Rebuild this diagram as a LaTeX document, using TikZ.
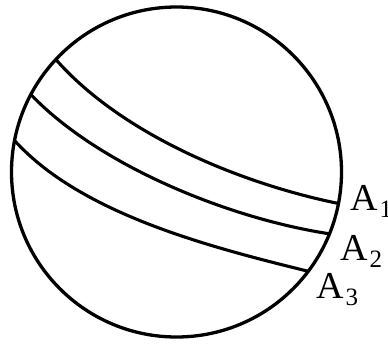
\documentclass[tikz,border=0pt]{standalone}
\usepackage{fontspec}
\setmainfont{Liberation Serif}
\begin{document}
\begin{tikzpicture}[x=1pt,y=-1pt,
  ball/.style={draw,circle,line width=3.3pt,minimum size=330pt,inner sep=0pt,outer sep=0pt},
  band/.style={line width=3.1pt},
  lab/.style={anchor=base west,inner sep=0pt,font=\fontsize{38}{38}\selectfont}]
\useasboundingbox (0,0) rectangle (388,343);
\node[ball] (ball) at (176.5,172) {};
\newcommand{\subdigit}[1]{\kern2pt\raisebox{-0.2em}{\fontsize{25}{25}\selectfont #1}}
\draw[band] (ball.137) .. controls +(66,75) and +(-98,-20) .. (ball.-11.3);
\draw[band] (ball.152.6) .. controls +(69,72) and +(-99,-15) .. (ball.-22.9);
\draw[band] (ball.169.8) .. controls +(67,74) and +(-97,-24) .. (ball.-37.9);
\node[lab] (a1) at (350,210) {A\subdigit{1}};
\node[lab] (a2) at (340,260) {A\subdigit{2}};
\node[lab] (a3) at (316,298) {A\subdigit{3}};
\end{tikzpicture}
\end{document}
